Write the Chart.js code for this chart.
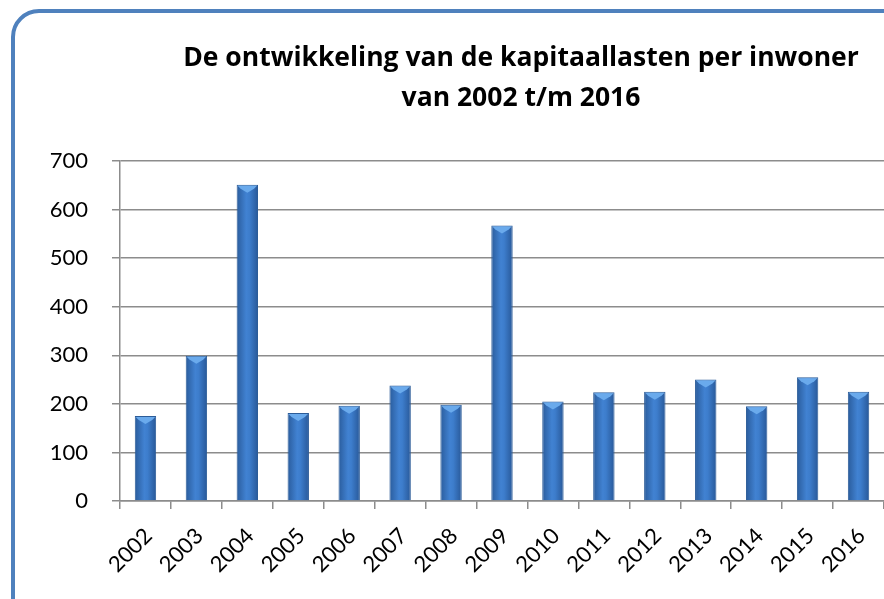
<!DOCTYPE html>
<html>
<head>
<meta charset="utf-8">
<script src="https://cdn.jsdelivr.net/npm/chart.js@4.4.1/dist/chart.umd.min.js"></script>
<style>
  html, body { margin: 0; padding: 0; background: #fff; overflow: hidden; }
  #wrap { position: relative; width: 884px; height: 599px; }
</style>
</head>
<body>
<div id="wrap"><canvas id="kapitaalChart" width="884" height="599"></canvas></div>
<script>
// Data
const years = ['2002', '2003', '2004', '2005', '2006', '2007', '2008', '2009', '2010', '2011', '2012', '2013', '2014', '2015', '2016'];
const lastenPerInwoner = [175, 299, 651, 181, 196, 238, 198, 567, 205, 224, 225, 250, 195, 255, 225];
const titleLines = ['De ontwikkeling van de kapitaallasten per inwoner', 'van 2002 t/m 2016'];

const BAR_PCT = 0.42;
const ctx = document.getElementById('kapitaalChart');

// rounded blue frame around the chart (runs off the right/bottom edge)
const framePlugin = {
  id: 'frame',
  beforeDraw(chart) {
    const c = chart.ctx;
    c.save();
    c.strokeStyle = '#4f81bd';
    c.lineWidth = 4;
    c.beginPath();
    c.roundRect(13, 11, 920, 640, 26);
    c.stroke();
    c.restore();
  }
};

// title drawn off-centre like the original
const titlePlugin = {
  id: 'offTitle',
  afterDraw(chart) {
    const c = chart.ctx;
    c.save();
    c.fillStyle = '#000';
    c.font = 'bold 26.5px "Open Sans"';
    c.textAlign = 'center';
    c.textBaseline = 'alphabetic';
    c.fillText(titleLines[0], 521, 66);
    c.fillText(titleLines[1], 521, 106);
    c.restore();
  }
};

// cylinder look: horizontal gradient per bar
function barGradient(context) {
  const chart = context.chart;
  if (!chart.chartArea) return '#3a78c4';
  const xs = chart.scales.x;
  const cx = xs.getPixelForValue(context.dataIndex);
  const w = xs.width / years.length * BAR_PCT;
  const g = chart.ctx.createLinearGradient(cx - w / 2, 0, cx + w / 2, 0);
  g.addColorStop(0, '#2a5c9c');
  g.addColorStop(0.45, '#4182d2');
  g.addColorStop(0.6, '#3d7dcc');
  g.addColorStop(1, '#285898');
  return g;
}

// light cap at the top of each bar
const barCapPlugin = {
  id: 'barCap',
  afterDatasetsDraw(chart) {
    const c = chart.ctx;
    chart.getDatasetMeta(0).data.forEach(bar => {
      const l = bar.x - bar.width / 2;
      const r = bar.x + bar.width / 2;
      c.save();
      c.fillStyle = '#6aaaec';
      c.beginPath();
      c.moveTo(l + 1, bar.y + 1);
      c.lineTo(r - 1, bar.y + 1);
      c.lineTo(r - 4, bar.y + 4);
      c.lineTo(bar.x, bar.y + 8);
      c.lineTo(l + 4, bar.y + 4);
      c.closePath();
      c.fill();
      c.restore();
    });
  }
};

const kapitaalChart = new Chart(ctx, {
  type: 'bar',
  data: {
    labels: years,
    datasets: [{
      label: 'Kapitaallasten per inwoner',
      data: lastenPerInwoner,
      backgroundColor: barGradient,
      borderColor: '#2c5c98',
      borderWidth: 1,
      barPercentage: BAR_PCT,
      categoryPercentage: 1
    }]
  },
  options: {
    responsive: false,
    animation: false,
    layout: { padding: { top: 161, left: 0, right: 0, bottom: 0 } },
    plugins: {
      legend: { display: false },
      title: { display: false },
      tooltip: { enabled: false }
    },
    scales: {
      y: {
        min: 0,
        max: 700,
        ticks: {
          stepSize: 100,
          color: '#000',
          padding: 24,
          font: { family: 'Lato', size: 22 }
        },
        grid: { color: '#8c8c8c', lineWidth: 1.5, tickLength: 8 },
        border: { color: '#8c8c8c', width: 1.5 },
        afterFit(scale) {
          scale.width = 120;
          scale.paddingTop = 0;
          scale.paddingBottom = 0;
        }
      },
      x: {
        ticks: {
          color: '#000',
          minRotation: 45,
          maxRotation: 45,
          padding: 14,
          labelOffset: 3,
          font: { family: 'Lato', size: 22 }
        },
        grid: { drawOnChartArea: false, color: '#8c8c8c', lineWidth: 1.5, tickLength: 8, offset: true },
        border: { color: '#8c8c8c', width: 1.5 },
        afterFit(scale) {
          scale.height = 98;
          scale.paddingLeft = 0;
          scale.paddingRight = 0;
        }
      }
    }
  },
  plugins: [framePlugin, barCapPlugin, titlePlugin]
});
</script>
</body>
</html>
